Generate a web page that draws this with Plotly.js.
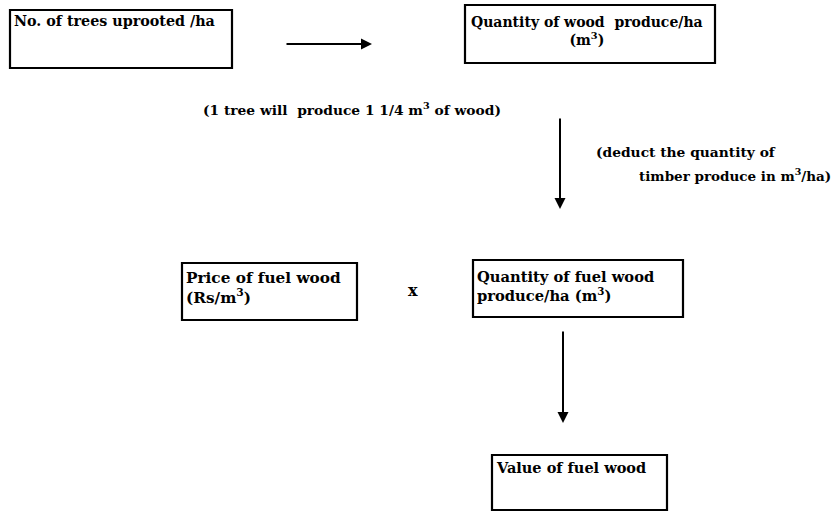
<!DOCTYPE html>
<html>
<head>
<meta charset="utf-8">
<script src="https://cdn.plot.ly/plotly-3.0.1.min.js"></script>
<style>html,body{margin:0;padding:0;background:#fff;}#chart{width:840px;height:511px;}</style>
</head>
<body>
<div id="chart"></div>
<script>
// Text content of the flowchart
const boxLabels = [
  "No. of trees uprooted /ha",
  "Quantity of wood  produce/ha<br>(m<sup>3</sup>)",
  "Price of fuel wood<br>(Rs/m<sup>3</sup>)",
  "Quantity of fuel wood<br>produce/ha (m<sup>3</sup>)",
  "Value of fuel wood"
];
const noteLabels = [
  "(1 tree will  produce 1 1/4 m<sup>3</sup> of wood)",
  "(deduct the quantity of",
  "timber produce in m<sup>3</sup>/ha)",
  "x"
];

// Layout geometry (pixel coordinates, y downward)
const boxes = [
  {x0: 10, x1: 232, y0: 10, y1: 68, tx: 12, ty: 21, anchor: "left", size: 14.3},
  {x0: 465, x1: 715, y0: 5, y1: 63, tx: 587, ty: 31, anchor: "center", size: 14},
  {x0: 182, x1: 357, y0: 263, y1: 320, tx: 184, ty: 288, anchor: "left", size: 15.3},
  {x0: 473, x1: 683, y0: 260, y1: 317, tx: 475, ty: 286, anchor: "left", size: 14.7},
  {x0: 492, x1: 667, y0: 455, y1: 510, tx: 494, ty: 467, anchor: "left", size: 14.5}
];
const notePos = [
  {x: 201, y: 109, anchor: "left", size: 13.8},
  {x: 594, y: 152, anchor: "left", size: 13.8},
  {x: 637, y: 175, anchor: "left", size: 13.5},
  {x: 413, y: 290, anchor: "center", size: 16}
];
const arrows = [
  {x0: 285, y0: 44, x1: 372, y1: 44},
  {x0: 560, y0: 117, x1: 560, y1: 209},
  {x0: 563, y0: 330, x1: 563, y1: 423}
];

const FONT = "DejaVu Serif, Liberation Serif, serif";

const shapes = boxes.map(b => ({
  type: "rect", xref: "x", yref: "y",
  x0: b.x0, x1: b.x1, y0: b.y0, y1: b.y1,
  line: {color: "#000", width: 2.2}, fillcolor: "rgba(0,0,0,0)"
}));

const annotations = [];
boxes.forEach((b, i) => {
  annotations.push({
    xref: "x", yref: "y", x: b.tx, y: b.ty,
    text: "<b>" + boxLabels[i] + "</b>",
    showarrow: false, xanchor: b.anchor, yanchor: "middle", align: b.anchor,
    font: {family: FONT, size: b.size, color: "#000"}
  });
});
notePos.forEach((p, i) => {
  annotations.push({
    xref: "x", yref: "y", x: p.x, y: p.y,
    text: "<b>" + noteLabels[i] + "</b>",
    showarrow: false, xanchor: p.anchor, yanchor: "middle", align: "left",
    font: {family: FONT, size: p.size, color: "#000"}
  });
});
arrows.forEach(a => {
  annotations.push({
    xref: "x", yref: "y", axref: "x", ayref: "y",
    x: a.x1, y: a.y1, ax: a.x0, ay: a.y0,
    text: "", showarrow: true, arrowhead: 2, arrowsize: 1.1,
    arrowwidth: 2, arrowcolor: "#000", standoff: 0, startstandoff: 0
  });
});

const layout = {
  width: 840, height: 511,
  margin: {l: 0, r: 0, t: 0, b: 0},
  paper_bgcolor: "#fff", plot_bgcolor: "#fff",
  xaxis: {range: [0, 840], visible: false, fixedrange: true},
  yaxis: {range: [511, 0], visible: false, fixedrange: true},
  showlegend: false,
  shapes: shapes,
  annotations: annotations
};

Plotly.newPlot("chart", [{x: [], y: [], type: "scatter", mode: "markers", hoverinfo: "skip"}], layout, {staticPlot: true, displayModeBar: false});
</script>
</body>
</html>
